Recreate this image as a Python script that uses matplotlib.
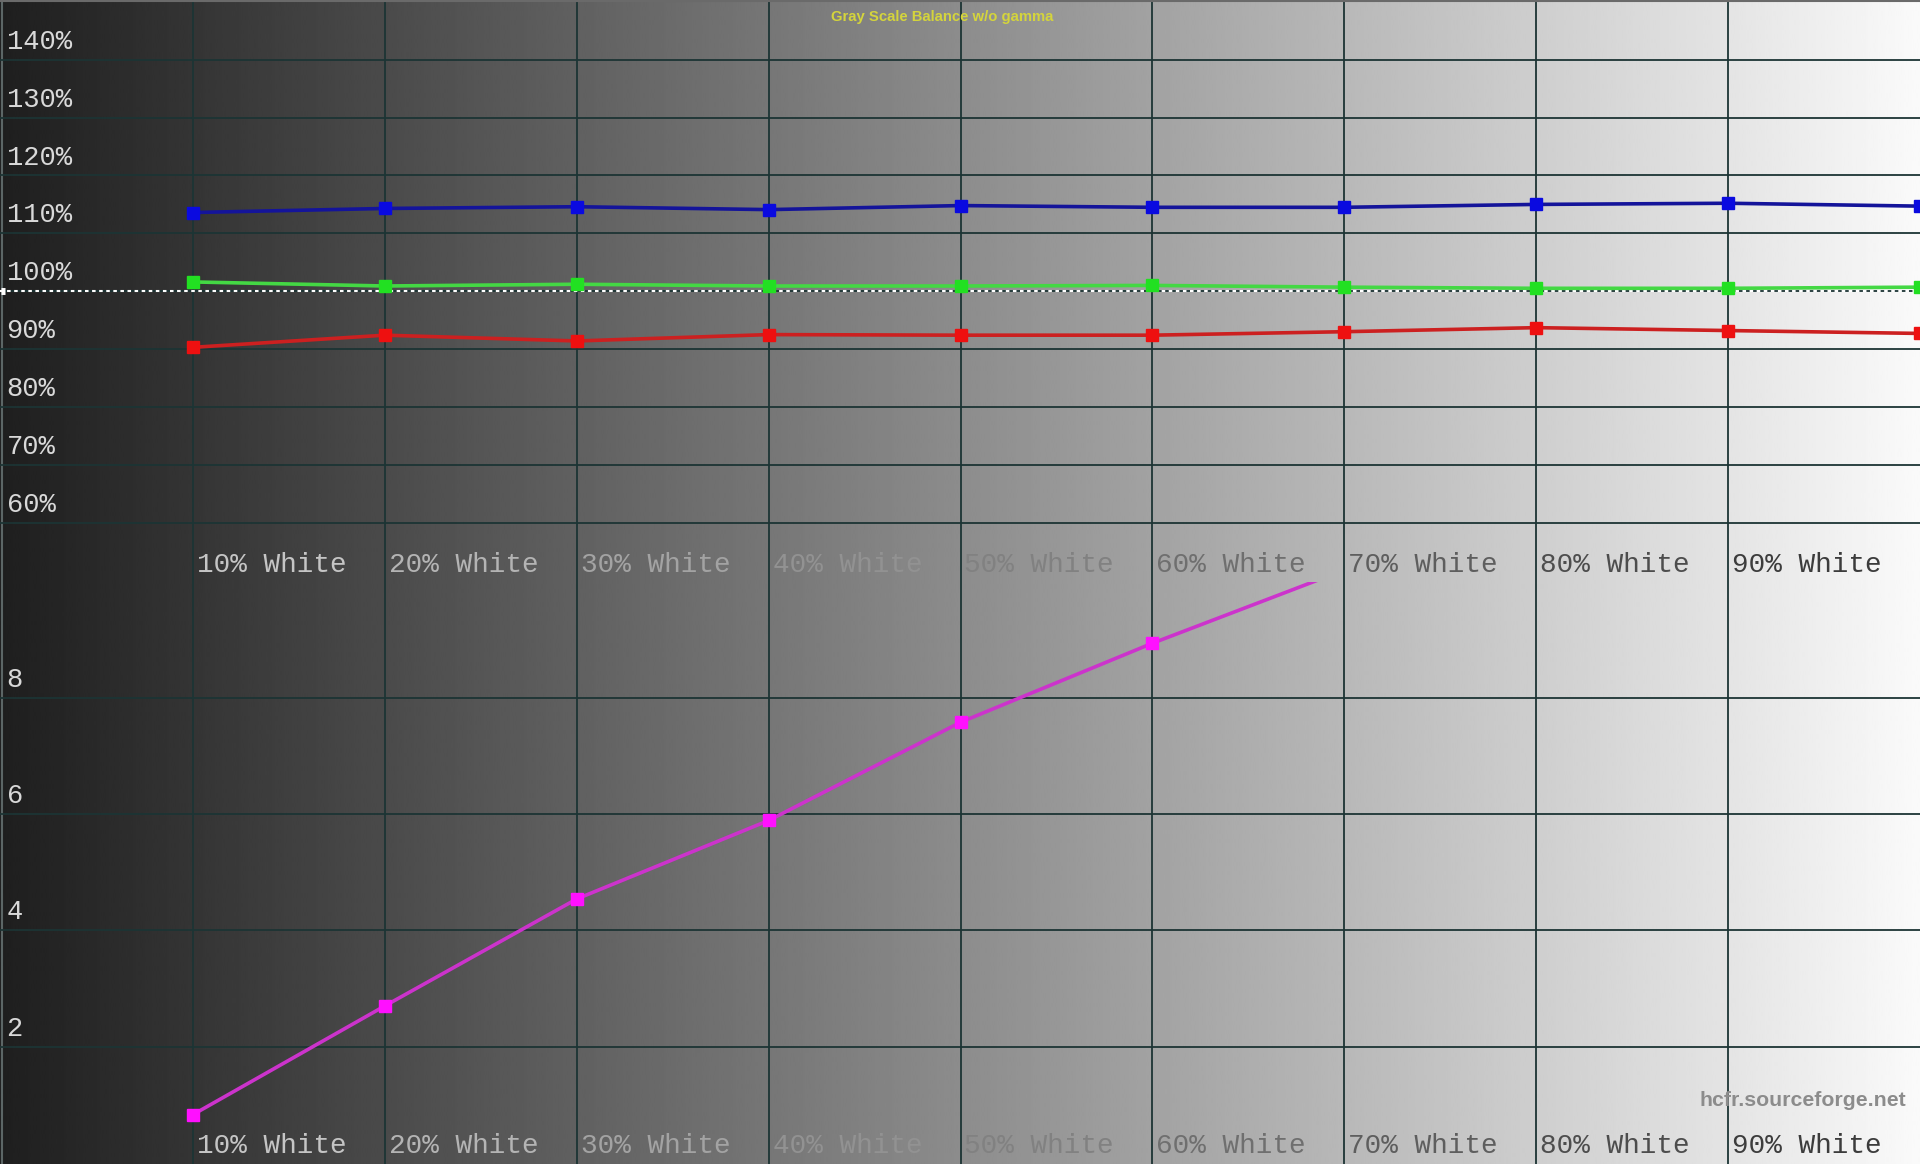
import numpy as np
import matplotlib.pyplot as plt

# grey-scale steps (% white)
levels = [10, 20, 30, 40, 50, 60, 70, 80, 90, 100]
level_labels = ['10% White', '20% White', '30% White', '40% White', '50% White',
                '60% White', '70% White', '80% White', '90% White']

# RGB balance, %
red = [90.3, 92.4, 91.4, 92.5, 92.4, 92.4, 93.0, 93.7, 93.2, 92.7]
green = [101.6, 100.9, 101.2, 100.9, 100.9, 101.0, 100.7, 100.5, 100.5, 100.7]
blue = [113.6, 114.3, 114.6, 114.1, 114.8, 114.5, 114.5, 115.0, 115.2, 114.7]

# lower panel, runs off the top after 60%
delta_levels = [10, 20, 30, 40, 50, 60, 70]
delta = [0.83, 2.70, 4.54, 5.89, 7.58, 8.94, 10.2]

top_ticks = [60, 70, 80, 90, 100, 110, 120, 130, 140]
top_labels = ['60%', '70%', '80%', '90%', '100%', '110%', '120%', '130%', '140%']
bottom_ticks = [2, 4, 6, 8]
bottom_labels = ['2', '4', '6', '8']

W, H = 1920, 1164
XMIN, XMAX = -0.06, 100.0
BG_LO, BG_HI = 0.12, 0.98
GRID = '#1c3434'
MONO = 'Liberation Mono'


def bg_grey(x):
    frac = (x - XMIN) / (XMAX - XMIN)
    return BG_LO + (BG_HI - BG_LO) * frac


def text_grey(x):
    # labels are drawn roughly inverted against the ramp
    g = 0.96 - 0.78 * bg_grey(x)
    return (g, g, g)


fig = plt.figure(figsize=(W / 100, H / 100), dpi=100)

# background ramp + vertical grid
bg = fig.add_axes([0, 0, 1, 1])
ramp = bg_grey(np.linspace(XMIN, XMAX, 800))
bg.imshow(ramp[np.newaxis, :], cmap='gray', vmin=0, vmax=1,
          extent=(XMIN, XMAX, 0, 1), aspect='auto', interpolation='bilinear')
for lvl in levels[:-1]:
    bg.axvline(lvl, color=GRID, lw=1.3)
bg.axvline(0.02, color='#5c6666', lw=1.5)
bg.axhline(0.999, color='#6a6a6a', lw=1.5)
bg.set_xlim(XMIN, XMAX)
bg.set_ylim(0, 1)
bg.axis('off')

# top panel: RGB balance
ax = fig.add_axes([0, 1 - 580.5 / H, 1, (580.5 - 1.9) / H])
ax.patch.set_alpha(0)
ax.set_xlim(XMIN, XMAX)
ax.set_ylim(50, 150)
ax.axis('off')
for t, lab in zip(top_ticks, top_labels):
    if t != 100:
        ax.axhline(t, color=GRID, lw=1.3)
    ax.text(0.28, t + 3.1, lab, family=MONO, fontsize=19.5,
            color=text_grey(2), ha='left', va='center')
ax.axhline(100, color=GRID, lw=1.3)
ax.axhline(100, color='white', lw=1.5, dashes=(1.7, 1.7))
ax.plot([0, 0.2], [100, 100], color='white', lw=5, solid_capstyle='butt')

ax.plot(levels, blue, color='#14149a', lw=2.6, marker='s', ms=8,
        mfc='#0a0ae0', mec='#0a0ae0', zorder=3)
ax.plot(levels, green, color='#44d844', lw=2.6, marker='s', ms=8,
        mfc='#22e022', mec='#22e022', zorder=3)
ax.plot(levels, red, color='#cc2020', lw=2.6, marker='s', ms=8,
        mfc='#ee1010', mec='#ee1010', zorder=3)

for lvl, lab in zip(levels, level_labels):
    ax.text(lvl + 0.2, 52.75, lab, family=MONO, fontsize=20,
            color=text_grey(lvl + 4), ha='left', va='center')

# bottom panel
ax2 = fig.add_axes([0, 1 - 1162.8 / H, 1, (1162.8 - 581.6) / H])
ax2.patch.set_alpha(0)
ax2.set_xlim(XMIN, XMAX)
ax2.set_ylim(0, 10)
ax2.axis('off')
for t, lab in zip(bottom_ticks, bottom_labels):
    ax2.axhline(t, color=GRID, lw=1.3)
    ax2.text(0.28, t + 0.31, lab, family=MONO, fontsize=19.5,
             color=text_grey(2), ha='left', va='center')
ax2.plot(delta_levels, delta, color='#cc33cc', lw=2.6, marker='s', ms=8,
         mfc='#ff10ff', mec='#ff10ff', zorder=3)
for lvl, lab in zip(levels, level_labels):
    ax2.text(lvl + 0.2, 0.29, lab, family=MONO, fontsize=20,
             color=text_grey(lvl + 4), ha='left', va='center')

fig.text(942 / W, 1 - 16.7 / H, 'Gray Scale Balance w/o gamma',
         family='Liberation Sans', fontsize=10.7, fontweight='bold',
         color='#d4d43c', ha='center', va='center')
fig.text(1906 / W, 1 - 1100 / H, 'hcfr.sourceforge.net',
         family='Liberation Sans', fontsize=15.3, fontweight='bold',
         color='#8c8c8c', ha='right', va='center')

fig.savefig('out.png', dpi=100)
